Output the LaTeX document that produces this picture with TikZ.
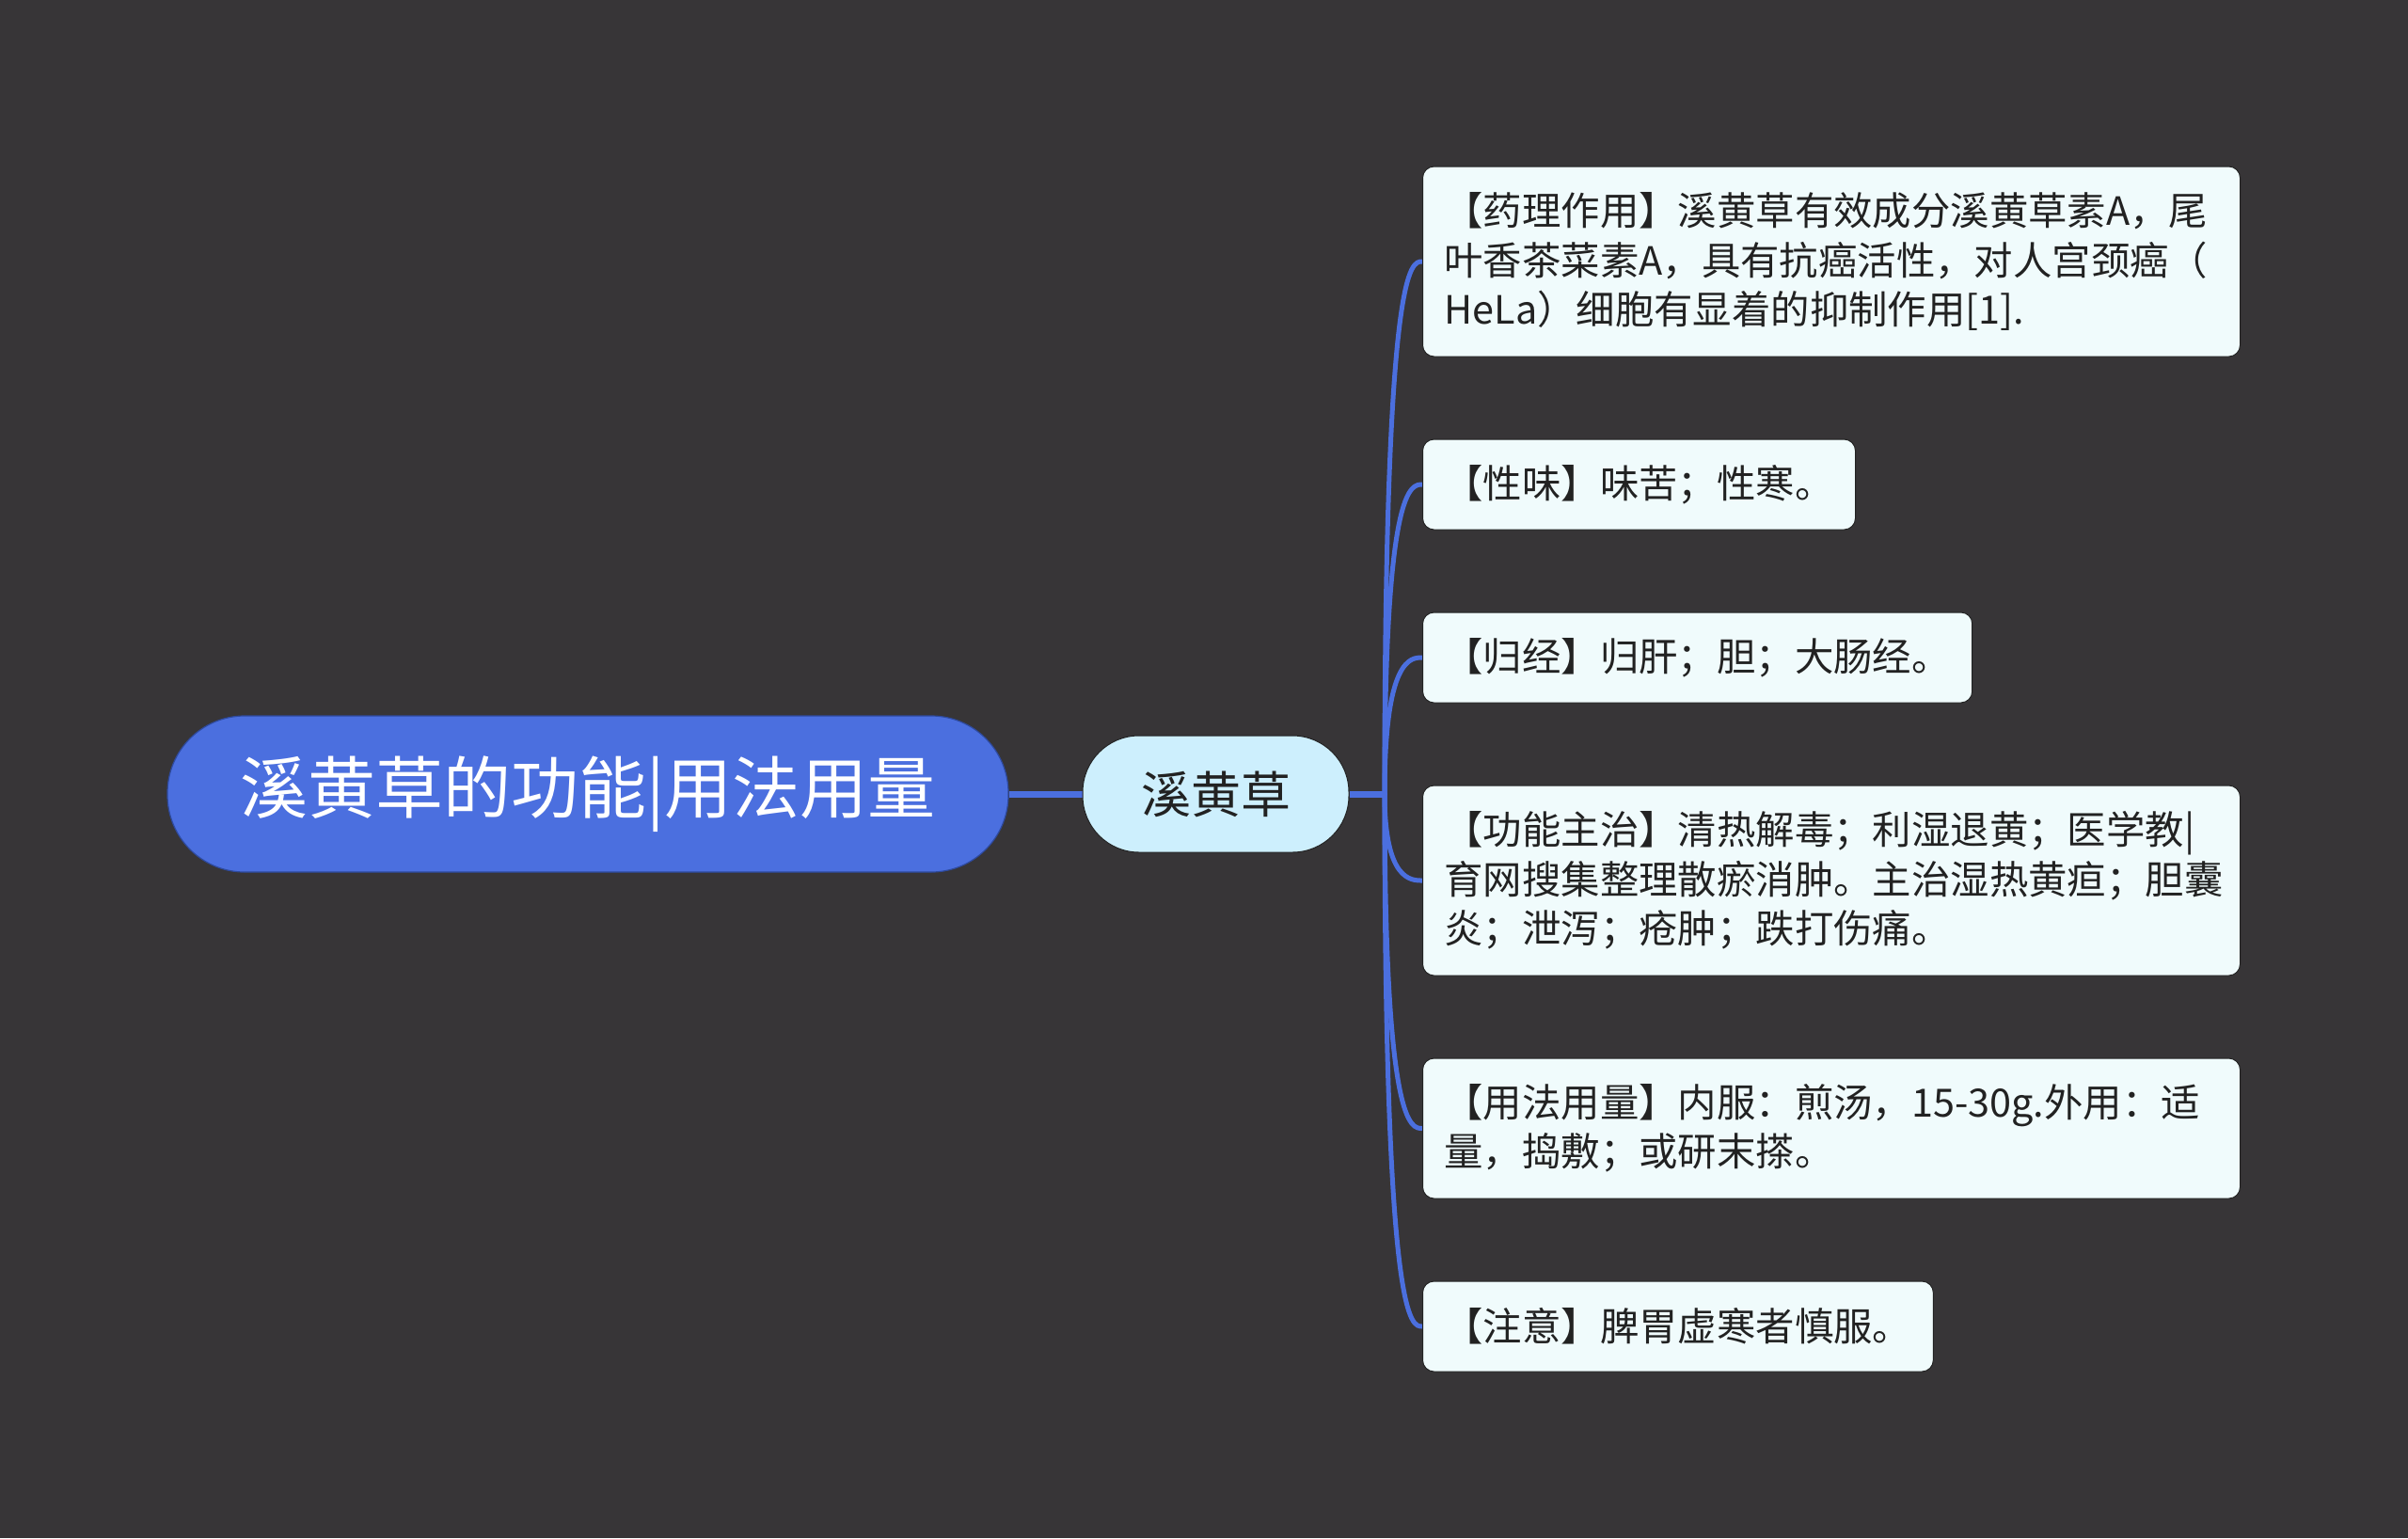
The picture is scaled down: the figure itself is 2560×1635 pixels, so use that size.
\documentclass[tikz,border=0pt]{standalone}
\usepackage{fontspec}
\newfontfamily\cjk{Noto Sans CJK SC}
\usepackage{xcolor}
\definecolor{bg}{HTML}{373537}
\definecolor{royal}{HTML}{4B6FDF}
\definecolor{navy}{HTML}{2E4A9E}
\definecolor{ice}{HTML}{CDEFFD}
\definecolor{frost}{HTML}{F0FBFC}
\definecolor{ink}{HTML}{222222}
\usetikzlibrary{calc,backgrounds}

\begin{document}
\begin{tikzpicture}[
  x=0.5pt, y=-0.5pt,
  font=\cjk,
  topic/.style={rounded corners=41pt, fill=royal, draw=navy, line width=0.6pt, minimum width=447pt, minimum height=83pt, text=white, font=\cjk\fontsize{36}{42}\selectfont},
  herb/.style={rounded corners=30pt, fill=ice, draw=ink, line width=0.5pt, minimum width=141.5pt, minimum height=62pt, text=ink, font=\cjk\fontsize{26.5}{30}\selectfont},
  card/.style={anchor=west, rounded corners=6pt, fill=frost, draw=ink, line width=0.5pt, inner xsep=11.5pt, align=left, text=ink, minimum height=48pt, font=\cjk\fontsize{20.7}{26.25}\selectfont},
  wide/.style={text width=411.5pt},
  trunk/.style={draw=royal, line width=3.5pt},
  twig/.style={draw=royal, line width=2.5pt, line cap=round}
]

% Main topic and centre
\node[topic] (root) at (625,844) {溪黄草的功能|用法用量};
\node[herb] (xhc) at (1292.5,844) {溪黄草};
\coordinate (hub) at (1472,844);

% Cards
\node[card, wide, minimum height=101pt] (pharm) at (1512,278) {【药理作用】溪黄草有效成分溪黄草素A，尾\\叶香茶菜素A，具有抗癌活性，对人宫颈癌（\\HeLa）细胞有显着的抑制作用[1].};
\node[card] (taste) at (1512,515) {【性味】味苦；性寒。};
\node[card] (meridian) at (1512,699) {【归经】归肝；胆；大肠经。};
\node[card, wide, minimum height=101pt] (func) at (1512,936) {【功能主治】清热解毒；利湿退黄；医学教|\\育网搜集整理散瘀消肿。主治湿热黄疸；胆囊\\炎；泄泻；疮肿；跌打伤痛。};
\node[card, wide, minimum height=74.5pt] (usage) at (1512,1199.5) {【用法用量】内服：煎汤，15-30g.外用：适\\量，捣敷；或研末搽。};
\node[card] (caution) at (1512,1410) {【注意】脾胃虚寒者慎服。};

% Links
\begin{scope}[on background layer]
\fill[bg] (0,0) rectangle (2560,1635);
\draw[trunk] (root.east) -- (xhc.west);
\draw[trunk] (xhc.east) -- (hub);
\foreach \b in {pharm,taste,meridian,func,usage,caution}
  \draw[twig] (hub) .. controls (hub |- \b.west) and ($(\b.west)+(-12,0)$) .. (\b.west);
\end{scope}

\end{tikzpicture}
\end{document}
